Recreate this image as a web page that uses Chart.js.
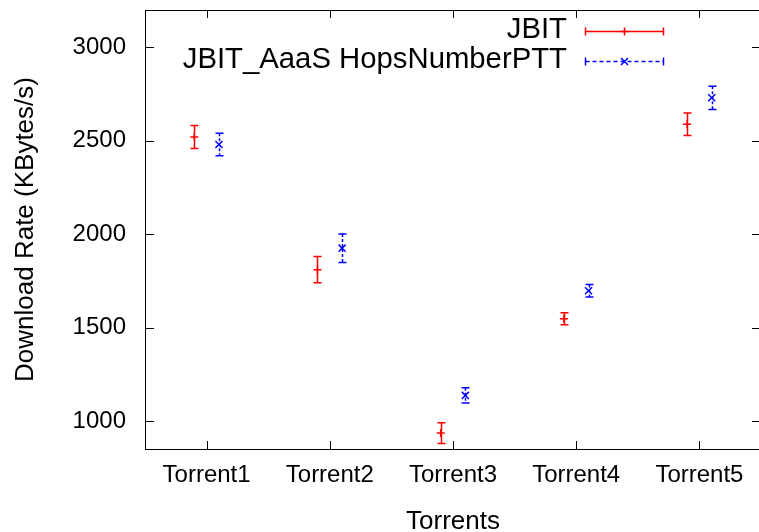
<!DOCTYPE html>
<html>
<head>
<meta charset="utf-8">
<script src="https://cdn.jsdelivr.net/npm/chart.js@4/dist/chart.umd.min.js"></script>
<style>
  html, body { margin: 0; padding: 0; background: #fff; overflow: hidden; }
  #wrap { width: 759px; height: 532px; overflow: hidden; }
</style>
</head>
<body>
<div id="wrap"><canvas id="grafico" width="762" height="532"></canvas></div>
<script>
// dados
const torrents = ["Torrent1", "Torrent2", "Torrent3", "Torrent4", "Torrent5"];
const jbit = [2520, 1810, 935, 1547, 2588];
const jbitErro = [62, 70, 55, 32, 60];
const aaas = [2480, 1925, 1137, 1697, 2730];
const aaasErro = [60, 76, 41, 33, 62];
const yTicks = [1000, 1500, 2000, 2500, 3000];

const VERMELHO = "rgb(255, 0, 0)";
const AZUL = "rgb(0, 0, 255)";
const desloc = 0.1;

Chart.defaults.font.family = "'Liberation Sans', Arial, Helvetica, sans-serif";
Chart.defaults.color = "#000";

function pontos(valores, dx) {
  return valores.map((v, i) => ({ x: i + 1 + dx, y: v }));
}

// barras de erro, moldura e legenda estilo gnuplot
const estiloGnuplot = {
  id: "estiloGnuplot",
  beforeDatasetsDraw(chart) {
    const ctx = chart.ctx;
    const x = chart.scales.x;
    const y = chart.scales.y;
    const series = [
      { vals: jbit, err: jbitErro, dx: -desloc, cor: VERMELHO, dash: [] },
      { vals: aaas, err: aaasErro, dx: desloc, cor: AZUL, dash: [3, 2] },
    ];
    ctx.save();
    series.forEach((s) => {
      ctx.strokeStyle = s.cor;
      ctx.lineWidth = 1.5;
      s.vals.forEach((v, i) => {
        const px = Math.round(x.getPixelForValue(i + 1 + s.dx)) + 0.5;
        const top = y.getPixelForValue(v + s.err[i]);
        const bot = y.getPixelForValue(v - s.err[i]);
        ctx.setLineDash(s.dash);
        ctx.beginPath();
        ctx.moveTo(px, top);
        ctx.lineTo(px, bot);
        ctx.stroke();
        ctx.setLineDash([]);
        ctx.beginPath();
        ctx.moveTo(px - 4, top);
        ctx.lineTo(px + 4, top);
        ctx.moveTo(px - 4, bot);
        ctx.lineTo(px + 4, bot);
        ctx.stroke();
      });
    });
    ctx.restore();
  },
  afterDraw(chart) {
    const ctx = chart.ctx;
    const a = chart.chartArea;
    const x = chart.scales.x;
    const y = chart.scales.y;
    ctx.save();
    ctx.strokeStyle = "#000";
    ctx.lineWidth = 1;
    ctx.strokeRect(a.left + 0.5, a.top + 0.5, a.right - a.left, a.bottom - a.top);
    ctx.beginPath();
    yTicks.forEach((v) => {
      const py = Math.round(y.getPixelForValue(v)) + 0.5;
      ctx.moveTo(a.left, py);
      ctx.lineTo(a.left + 9, py);
      ctx.moveTo(a.right, py);
      ctx.lineTo(a.right - 9, py);
    });
    torrents.forEach((t, i) => {
      const px = Math.round(x.getPixelForValue(i + 1)) + 0.5;
      ctx.moveTo(px, a.bottom);
      ctx.lineTo(px, a.bottom - 8);
      ctx.moveTo(px, a.top);
      ctx.lineTo(px, a.top + 8);
    });
    ctx.stroke();

    // legenda
    const linhas = [
      { label: chart.data.datasets[0].label, cor: VERMELHO, dash: [], y: a.top + 21, marca: "+" },
      { label: chart.data.datasets[1].label, cor: AZUL, dash: [4, 3], y: a.top + 51, marca: "x" },
    ];
    ctx.font = "29.3px 'Liberation Sans', Arial, sans-serif";
    ctx.textAlign = "right";
    ctx.textBaseline = "middle";
    linhas.forEach((l) => {
      ctx.fillStyle = "#000";
      ctx.fillText(l.label, a.right - 194, l.y - 1);
      const x1 = a.right - 176 + 0.5;
      const x2 = a.right - 98 + 0.5;
      const xm = (x1 + x2) / 2;
      const ly = Math.round(l.y) + 0.5;
      ctx.strokeStyle = l.cor;
      ctx.lineWidth = 1.5;
      ctx.setLineDash(l.dash);
      ctx.beginPath();
      ctx.moveTo(x1, ly);
      ctx.lineTo(x2, ly);
      ctx.stroke();
      ctx.setLineDash([]);
      ctx.beginPath();
      ctx.moveTo(x1, ly - 4);
      ctx.lineTo(x1, ly + 4);
      ctx.moveTo(x2, ly - 4);
      ctx.lineTo(x2, ly + 4);
      if (l.marca === "+") {
        ctx.moveTo(xm - 4, ly);
        ctx.lineTo(xm + 4, ly);
        ctx.moveTo(xm, ly - 4);
        ctx.lineTo(xm, ly + 4);
      } else {
        ctx.moveTo(xm - 3.5, ly - 3.5);
        ctx.lineTo(xm + 3.5, ly + 3.5);
        ctx.moveTo(xm - 3.5, ly + 3.5);
        ctx.lineTo(xm + 3.5, ly - 3.5);
      }
      ctx.stroke();
    });
    ctx.restore();
  },
};

const grafico = new Chart(document.getElementById("grafico"), {
  type: "scatter",
  data: {
    datasets: [
      {
        label: "JBIT",
        data: pontos(jbit, -desloc),
        pointStyle: "cross",
        pointRadius: 4,
        borderColor: VERMELHO,
        backgroundColor: VERMELHO,
        pointBorderWidth: 1.5,
      },
      {
        label: "JBIT_AaaS HopsNumberPTT",
        data: pontos(aaas, desloc),
        pointStyle: "crossRot",
        pointRadius: 5,
        borderColor: AZUL,
        backgroundColor: AZUL,
        pointBorderWidth: 1.5,
      },
    ],
  },
  options: {
    responsive: false,
    animation: false,
    layout: { autoPadding: false, padding: { top: 10, right: 1, left: 0, bottom: 0 } },
    plugins: {
      legend: { display: false },
      tooltip: { enabled: false },
    },
    scales: {
      x: {
        type: "linear",
        min: 0.5,
        max: 5.5,
        afterBuildTicks: (s) => {
          s.ticks = torrents.map((t, i) => ({ value: i + 1 }));
        },
        afterFit: (s) => {
          s.height = 83;
          s.paddingLeft = 0;
          s.paddingRight = 0;
        },
        ticks: {
          callback: (v, i) => torrents[i],
          font: { size: 24 },
          padding: 12,
          autoSkip: false,
          maxRotation: 0,
        },
        grid: { display: false, drawTicks: false },
        border: { display: false },
        title: {
          display: true,
          text: "Torrents",
          font: { size: 26, lineHeight: 0.8 },
          padding: 0,
        },
      },
      y: {
        min: 850,
        max: 3200,
        afterBuildTicks: (s) => {
          s.ticks = yTicks.map((v) => ({ value: v }));
        },
        afterFit: (s) => {
          s.width = 145;
          s.paddingTop = 0;
          s.paddingBottom = 0;
        },
        ticks: {
          callback: (v) => String(v),
          font: { size: 24 },
          padding: 19,
        },
        grid: { display: false, drawTicks: false },
        border: { display: false },
        title: {
          display: true,
          text: "Download Rate (KBytes/s)",
          font: { size: 26, lineHeight: 1 },
          padding: { top: 13, bottom: 0 },
        },
      },
    },
  },
  plugins: [estiloGnuplot],
});
</script>
</body>
</html>
